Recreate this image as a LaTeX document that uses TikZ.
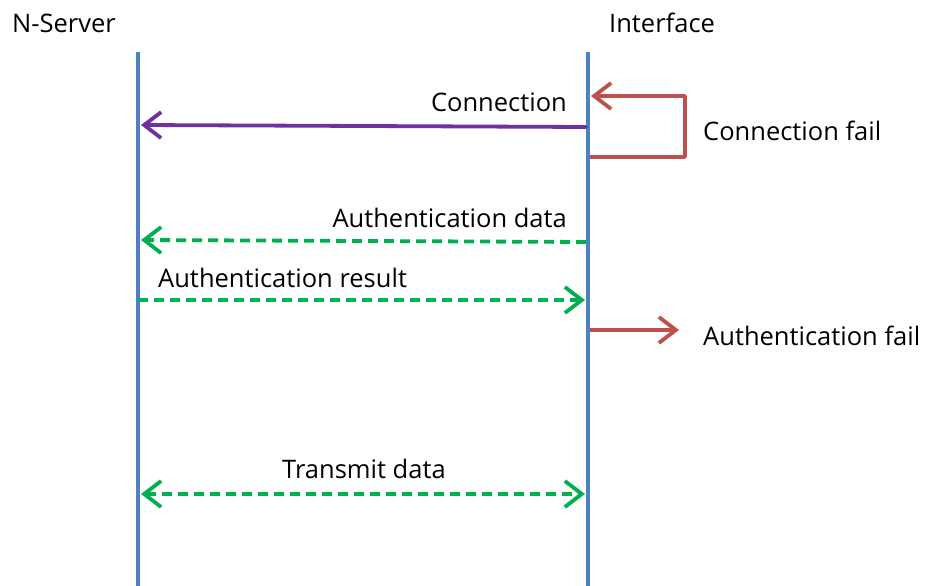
\documentclass[tikz,border=0pt]{standalone}
\usepackage{fontspec}
\setmainfont{Open Sans}
\usetikzlibrary{arrows.meta}
\definecolor{lifeblue}{HTML}{4F81BD}
\definecolor{msgpurple}{HTML}{7030A0}
\definecolor{msggreen}{HTML}{00B050}
\definecolor{failred}{HTML}{C0504D}
\begin{document}
\begin{tikzpicture}
      [x=1pt, y=-1pt,
      every node/.style={font=\fontsize{25.5}{30}\selectfont, inner sep=0pt},
      lifeline/.style={draw=lifeblue, line width=4.5pt},
      tip/.style={-{Straight Barb[length=17pt, width=26pt]}, line width=3.8pt, line join=round, line cap=round},
      call/.style={tip, draw=msgpurple},
      reply/.style={tip, draw=msggreen, dash pattern=on 10pt off 6pt, line cap=butt},
      both/.style={reply, {Straight Barb[length=17pt, width=26pt]}-{Straight Barb[length=17pt, width=26pt]}},
      fail/.style={tip, draw=failred, line cap=butt},
      ]
      \useasboundingbox (0,0) rectangle (930,586);
      \node[anchor=base west] (server) at (12,33) {N-Server};
      \node[anchor=base west] (iface) at (609,33) {Interface};
      \coordinate (srvtop) at (138,52);
      \coordinate (srvbot) at (138,586);
      \coordinate (iftop) at (588,52);
      \coordinate (ifbot) at (588,586);
      \draw[lifeline] (srvtop) -- (srvbot);
      \draw[lifeline] (iftop) -- (ifbot);
      \coordinate (conn a) at (586,127);
      \coordinate (conn b) at (141,125);
      \draw[call] (conn a) -- (conn b);
      \node[anchor=base east] (conn) at (567,112) {Connection};
      \coordinate (cfail a) at (590,157);
      \coordinate (cfail b) at (591,96);
      \draw[fail] (cfail a) -| (685,96) -- (cfail b);
      \node[anchor=base west] (cfail) at (703,140) {Connection fail};
      \coordinate (adata a) at (586,242);
      \coordinate (adata b) at (141,240);
      \draw[reply] (adata a) -- (adata b);
      \node[anchor=base east] (adata) at (567,227) {Authentication data};
      \coordinate (ares a) at (138,300);
      \coordinate (ares b) at (585,300);
      \draw[reply] (ares a) -- (ares b);
      \node[anchor=base west] (ares) at (158,287) {Authentication result};
      \coordinate (afail a) at (590,330);
      \coordinate (afail b) at (679,330);
      \draw[fail] (afail a) -- (afail b);
      \node[anchor=base west] (afail) at (703,345) {Authentication fail};
      \coordinate (tx a) at (141,494);
      \coordinate (tx b) at (585,494);
      \draw[both] (tx a) -- (tx b);
      \node[anchor=base] (tx) at (364,478) {Transmit data};
\end{tikzpicture}
\end{document}
